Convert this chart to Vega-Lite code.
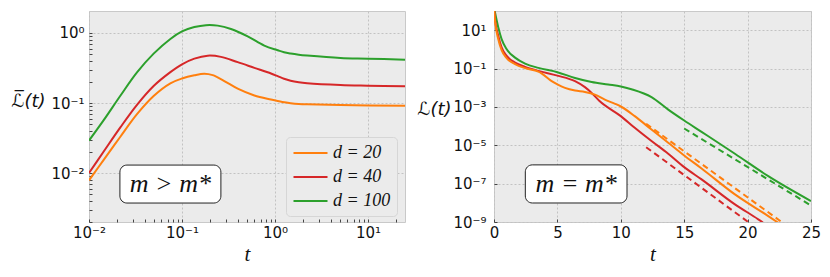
{
  "$schema": "https://vega.github.io/schema/vega-lite/v6.json",
  "padding": {"left": 10, "top": 10, "right": 5, "bottom": 5},
  "spacing": 10,
  "background": "white",
  "config": {
    "view": {"fill": "#ebebeb", "stroke": "#c9c9c9", "strokeWidth": 1},
    "axis": {
      "domain": false, "labelFont": "DejaVu Sans", "labelFontSize": 15, "labelColor": "#111111",
      "gridColor": "#c2c2c2", "gridDash": [2, 2], "gridWidth": 1, "tickColor": "#444444", "tickSize": -3,
      "titleFont": "Liberation Serif", "titleFontStyle": "italic", "titleFontWeight": "normal", "titleFontSize": 21, "titleColor": "#111111",
      "labelFlush": false, "labelOverlap": false
    }
  },
  "datasets": {
    "left": [
      {"d": 100, "t": 0.01, "v": 0.0291}, {"d": 100, "t": 0.01439, "v": 0.0569}, {"d": 100, "t": 0.02173, "v": 0.127}, {"d": 100, "t": 0.03281, "v": 0.274}, {"d": 100, "t": 0.04955, "v": 0.507}, {"d": 100, "t": 0.07499, "v": 0.822}, {"d": 100, "t": 0.1, "v": 1.052}, {"d": 100, "t": 0.1358, "v": 1.216}, {"d": 100, "t": 0.1811, "v": 1.294}, {"d": 100, "t": 0.2421, "v": 1.274}, {"d": 100, "t": 0.3365, "v": 1.14}, {"d": 100, "t": 0.5082, "v": 0.897}, {"d": 100, "t": 0.7674, "v": 0.661}, {"d": 100, "t": 1.069, "v": 0.567}, {"d": 100, "t": 1.25, "v": 0.53}, {"d": 100, "t": 1.472, "v": 0.508}, {"d": 100, "t": 1.8, "v": 0.489}, {"d": 100, "t": 2.218, "v": 0.476}, {"d": 100, "t": 5.058, "v": 0.44}, {"d": 100, "t": 10, "v": 0.43}, {"d": 100, "t": 25, "v": 0.415},
      {"d": 40, "t": 0.01, "v": 0.01}, {"d": 40, "t": 0.01439, "v": 0.0203}, {"d": 40, "t": 0.02173, "v": 0.0449}, {"d": 40, "t": 0.03281, "v": 0.0942}, {"d": 40, "t": 0.04955, "v": 0.175}, {"d": 40, "t": 0.07499, "v": 0.276}, {"d": 40, "t": 0.1, "v": 0.357}, {"d": 40, "t": 0.1358, "v": 0.43}, {"d": 40, "t": 0.1888, "v": 0.474}, {"d": 40, "t": 0.2624, "v": 0.456}, {"d": 40, "t": 0.3972, "v": 0.383}, {"d": 40, "t": 0.5998, "v": 0.318}, {"d": 40, "t": 0.9057, "v": 0.264}, {"d": 40, "t": 1.069, "v": 0.242}, {"d": 40, "t": 1.25, "v": 0.222}, {"d": 40, "t": 1.472, "v": 0.208}, {"d": 40, "t": 1.8, "v": 0.198}, {"d": 40, "t": 2.218, "v": 0.192}, {"d": 40, "t": 5.058, "v": 0.181}, {"d": 40, "t": 10, "v": 0.177}, {"d": 40, "t": 25, "v": 0.173},
      {"d": 20, "t": 0.01, "v": 0.00787}, {"d": 20, "t": 0.01439, "v": 0.0154}, {"d": 20, "t": 0.02173, "v": 0.033}, {"d": 20, "t": 0.03281, "v": 0.0693}, {"d": 20, "t": 0.04955, "v": 0.126}, {"d": 20, "t": 0.07499, "v": 0.191}, {"d": 20, "t": 0.1, "v": 0.224}, {"d": 20, "t": 0.1358, "v": 0.249}, {"d": 20, "t": 0.1738, "v": 0.262}, {"d": 20, "t": 0.2138, "v": 0.25}, {"d": 20, "t": 0.2851, "v": 0.206}, {"d": 20, "t": 0.3972, "v": 0.16}, {"d": 20, "t": 0.5998, "v": 0.128}, {"d": 20, "t": 0.9057, "v": 0.112}, {"d": 20, "t": 1.2, "v": 0.1035}, {"d": 20, "t": 1.472, "v": 0.0995}, {"d": 20, "t": 1.8, "v": 0.097}, {"d": 20, "t": 2.218, "v": 0.0957}, {"d": 20, "t": 5.058, "v": 0.0935}, {"d": 20, "t": 25, "v": 0.0916}
    ],
    "right": [
      {"d": 100, "t": 0, "v": 150}, {"d": 100, "t": 0.08, "v": 83}, {"d": 100, "t": 0.34, "v": 13.8}, {"d": 100, "t": 0.6, "v": 3.39}, {"d": 100, "t": 1.0, "v": 1.02}, {"d": 100, "t": 1.66, "v": 0.372}, {"d": 100, "t": 2.45, "v": 0.182}, {"d": 100, "t": 3.5, "v": 0.108}, {"d": 100, "t": 5, "v": 0.0646}, {"d": 100, "t": 6.39, "v": 0.0324}, {"d": 100, "t": 7.7, "v": 0.02}, {"d": 100, "t": 9.0, "v": 0.0148}, {"d": 100, "t": 10, "v": 0.0117}, {"d": 100, "t": 10.84, "v": 0.00832}, {"d": 100, "t": 12.42, "v": 0.00324}, {"d": 100, "t": 13.74, "v": 7.24e-4}, {"d": 100, "t": 15, "v": 1.95e-4}, {"d": 100, "t": 16.37, "v": 5.01e-5}, {"d": 100, "t": 19, "v": 3.63e-6}, {"d": 100, "t": 21.63, "v": 2.45e-7}, {"d": 100, "t": 25, "v": 1.23e-8},
      {"d": 40, "t": 0, "v": 150}, {"d": 40, "t": 0.08, "v": 37}, {"d": 40, "t": 0.34, "v": 5.01}, {"d": 40, "t": 0.6, "v": 1.26}, {"d": 40, "t": 1.0, "v": 0.457}, {"d": 40, "t": 1.66, "v": 0.204}, {"d": 40, "t": 2.45, "v": 0.123}, {"d": 40, "t": 3.5, "v": 0.0759}, {"d": 40, "t": 5, "v": 0.0427}, {"d": 40, "t": 6.39, "v": 0.0219}, {"d": 40, "t": 7.17, "v": 0.0107}, {"d": 40, "t": 7.7, "v": 0.00537}, {"d": 40, "t": 8.3, "v": 0.00209}, {"d": 40, "t": 10, "v": 3.31e-4}, {"d": 40, "t": 11.1, "v": 8.13e-5}, {"d": 40, "t": 12.42, "v": 1.66e-5}, {"d": 40, "t": 13.74, "v": 3.63e-6}, {"d": 40, "t": 15, "v": 7.24e-7}, {"d": 40, "t": 16.37, "v": 1.66e-7}, {"d": 40, "t": 19, "v": 8.32e-9}, {"d": 40, "t": 20.84, "v": 1.38e-9}, {"d": 40, "t": 22, "v": 3.98e-10},
      {"d": 20, "t": 0, "v": 150}, {"d": 20, "t": 0.08, "v": 31}, {"d": 20, "t": 0.34, "v": 3.39}, {"d": 20, "t": 0.6, "v": 0.912}, {"d": 20, "t": 1.0, "v": 0.347}, {"d": 20, "t": 1.66, "v": 0.17}, {"d": 20, "t": 2.45, "v": 0.105}, {"d": 20, "t": 3.5, "v": 0.0692}, {"d": 20, "t": 3.77, "v": 0.055}, {"d": 20, "t": 4.55, "v": 0.0219}, {"d": 20, "t": 5, "v": 0.0148}, {"d": 20, "t": 5.6, "v": 0.00977}, {"d": 20, "t": 6.39, "v": 0.00708}, {"d": 20, "t": 7.17, "v": 0.00603}, {"d": 20, "t": 7.96, "v": 0.00437}, {"d": 20, "t": 8.74, "v": 0.0024}, {"d": 20, "t": 9.6, "v": 0.00141}, {"d": 20, "t": 10, "v": 0.00105}, {"d": 20, "t": 11.1, "v": 3.31e-4}, {"d": 20, "t": 12.42, "v": 6.61e-5}, {"d": 20, "t": 13.74, "v": 1.35e-5}, {"d": 20, "t": 15, "v": 2.95e-6}, {"d": 20, "t": 16.37, "v": 6.17e-7}, {"d": 20, "t": 19, "v": 2.75e-8}, {"d": 20, "t": 21.63, "v": 2.04e-9}, {"d": 20, "t": 23, "v": 5.01e-10}
    ],
    "rightdash": [
      {"d": 100, "t": 15, "v": 7.5e-5}, {"d": 100, "t": 25, "v": 7.24e-9},
      {"d": 20, "t": 12, "v": 1.32e-4}, {"d": 20, "t": 23, "v": 7.08e-10},
      {"d": 40, "t": 12, "v": 7.94e-6}, {"d": 40, "t": 20.5, "v": 6.03e-10}
    ],
    "leftbox": [{"x1": 0.0215, "x2": 0.262, "y1": 0.00373, "y2": 0.013, "tx": 0.075, "ty": 0.00697, "label": "m > m*"}],
    "rightbox": [{"x1": 2.47, "x2": 10.49, "y1": 9.8e-9, "y2": 9.5e-7, "tx": 6.48, "ty": 9.6e-8, "label": "m = m*"}]
  },
  "resolve": {"scale": {"color": "independent"}},
  "hconcat": [
    {
      "width": 316, "height": 211,
      "layer": [
        {
          "data": {"name": "left"},
          "mark": {"type": "line", "strokeWidth": 2, "interpolate": "catmull-rom", "clip": true},
          "encoding": {
            "x": {"field": "t", "type": "quantitative",
              "scale": {"type": "log", "domain": [0.01, 25], "nice": false},
              "axis": {
                "title": "t", "labelPadding": 6, "titlePadding": 3,
                "values": [0.01, 0.02, 0.03, 0.04, 0.05, 0.06, 0.07, 0.08, 0.09, 0.1, 0.2, 0.3, 0.4, 0.5, 0.6, 0.7, 0.8, 0.9, 1, 2, 3, 4, 5, 6, 7, 8, 9, 10, 20],
                "labelExpr": "abs(log(datum.value)/LN10 - round(log(datum.value)/LN10)) < 0.001 ? '10' + (round(log(datum.value)/LN10) < 0 ? '⁻' : '') + ['⁰','¹','²','³','⁴','⁵','⁶','⁷','⁸','⁹'][abs(round(log(datum.value)/LN10))] : ''",
                "gridOpacity": {"condition": {"test": "abs(log(datum.value)/LN10 - round(log(datum.value)/LN10)) < 0.001", "value": 1}, "value": 0}
              }},
            "y": {"field": "v", "type": "quantitative",
              "scale": {"type": "log", "domain": [0.002, 2.06], "nice": false},
              "axis": {
                "title": "ℒ̅(t)", "titleFont": "DejaVu Sans", "titleFontStyle": "oblique", "titleFontSize": 18, "titleAngle": 0, "titleAlign": "left", "titleBaseline": "middle", "titleX": -78, "titleY": 90,
                "labelPadding": 8,
                "values": [0.002, 0.003, 0.004, 0.005, 0.006, 0.007, 0.008, 0.009, 0.01, 0.02, 0.03, 0.04, 0.05, 0.06, 0.07, 0.08, 0.09, 0.1, 0.2, 0.3, 0.4, 0.5, 0.6, 0.7, 0.8, 0.9, 1],
                "labelExpr": "abs(log(datum.value)/LN10 - round(log(datum.value)/LN10)) < 0.001 ? '10' + (round(log(datum.value)/LN10) < 0 ? '⁻' : '') + ['⁰','¹','²','³','⁴','⁵','⁶','⁷','⁸','⁹'][abs(round(log(datum.value)/LN10))] : ''",
                "gridOpacity": {"condition": {"test": "abs(log(datum.value)/LN10 - round(log(datum.value)/LN10)) < 0.001", "value": 1}, "value": 0}
              }},
            "color": {"field": "d", "type": "nominal",
              "scale": {"domain": [20, 40, 100], "range": ["#ff7f0e", "#d62728", "#2ca02c"]},
              "legend": {
                "title": null, "orient": "none", "legendX": 197, "legendY": 126,
                "labelExpr": "'d = ' + datum.label",
                "labelFont": "Liberation Serif", "labelFontStyle": "italic", "labelFontSize": 18, "labelColor": "#111111",
                "symbolType": "M-1,0H3", "symbolSize": 289, "symbolStrokeWidth": 2.2, "labelOffset": 21,
                "rowPadding": 5, "padding": 6, "fillColor": "#ebebeb", "strokeColor": "#d6d6d6", "cornerRadius": 4
              }}
          }
        },
        {
          "data": {"name": "leftbox"},
          "mark": {"type": "rect", "fill": "white", "stroke": "#222222", "strokeWidth": 1, "cornerRadius": 7},
          "encoding": {
            "x": {"field": "x1", "type": "quantitative"}, "x2": {"field": "x2"},
            "y": {"field": "y1", "type": "quantitative"}, "y2": {"field": "y2"}
          }
        },
        {
          "data": {"name": "leftbox"},
          "mark": {"type": "text", "font": "Liberation Serif", "fontStyle": "italic", "fontSize": 26, "color": "#111111", "align": "center", "baseline": "middle"},
          "encoding": {
            "x": {"field": "tx", "type": "quantitative"},
            "y": {"field": "ty", "type": "quantitative"},
            "text": {"field": "label"}
          }
        }
      ]
    },
    {
      "width": 317, "height": 211,
      "layer": [
        {
          "data": {"name": "right"},
          "mark": {"type": "line", "strokeWidth": 2, "interpolate": "monotone", "clip": true},
          "encoding": {
            "x": {"field": "t", "type": "quantitative",
              "scale": {"domain": [0, 25], "nice": false},
              "axis": {"title": "t", "values": [0, 5, 10, 15, 20, 25], "labelPadding": 6, "titlePadding": 3}},
            "y": {"field": "v", "type": "quantitative",
              "scale": {"type": "log", "domain": [1e-9, 100], "nice": false},
              "axis": {
                "title": "ℒ(t)", "titleFont": "DejaVu Sans", "titleFontStyle": "oblique", "titleFontSize": 18, "titleAngle": 0, "titleAlign": "left", "titleBaseline": "middle", "titleX": -77, "titleY": 98,
                "labelPadding": 11,
                "values": [1e-9, 1e-7, 1e-5, 1e-3, 0.1, 10],
                "labelExpr": "'10' + (round(log(datum.value)/LN10) < 0 ? '⁻' : '') + ['⁰','¹','²','³','⁴','⁵','⁶','⁷','⁸','⁹'][abs(round(log(datum.value)/LN10))]"
              }},
            "color": {"field": "d", "type": "nominal",
              "scale": {"domain": [20, 40, 100], "range": ["#ff7f0e", "#d62728", "#2ca02c"]},
              "legend": null}
          }
        },
        {
          "data": {"name": "rightdash"},
          "mark": {"type": "line", "strokeWidth": 2, "strokeDash": [6, 4], "clip": true},
          "encoding": {
            "x": {"field": "t", "type": "quantitative"},
            "y": {"field": "v", "type": "quantitative"},
            "color": {"field": "d", "type": "nominal", "legend": null}
          }
        },
        {
          "data": {"name": "rightbox"},
          "mark": {"type": "rect", "fill": "white", "stroke": "#222222", "strokeWidth": 1, "cornerRadius": 7},
          "encoding": {
            "x": {"field": "x1", "type": "quantitative"}, "x2": {"field": "x2"},
            "y": {"field": "y1", "type": "quantitative"}, "y2": {"field": "y2"}
          }
        },
        {
          "data": {"name": "rightbox"},
          "mark": {"type": "text", "font": "Liberation Serif", "fontStyle": "italic", "fontSize": 26, "color": "#111111", "align": "center", "baseline": "middle"},
          "encoding": {
            "x": {"field": "tx", "type": "quantitative"},
            "y": {"field": "ty", "type": "quantitative"},
            "text": {"field": "label"}
          }
        }
      ]
    }
  ]
}
